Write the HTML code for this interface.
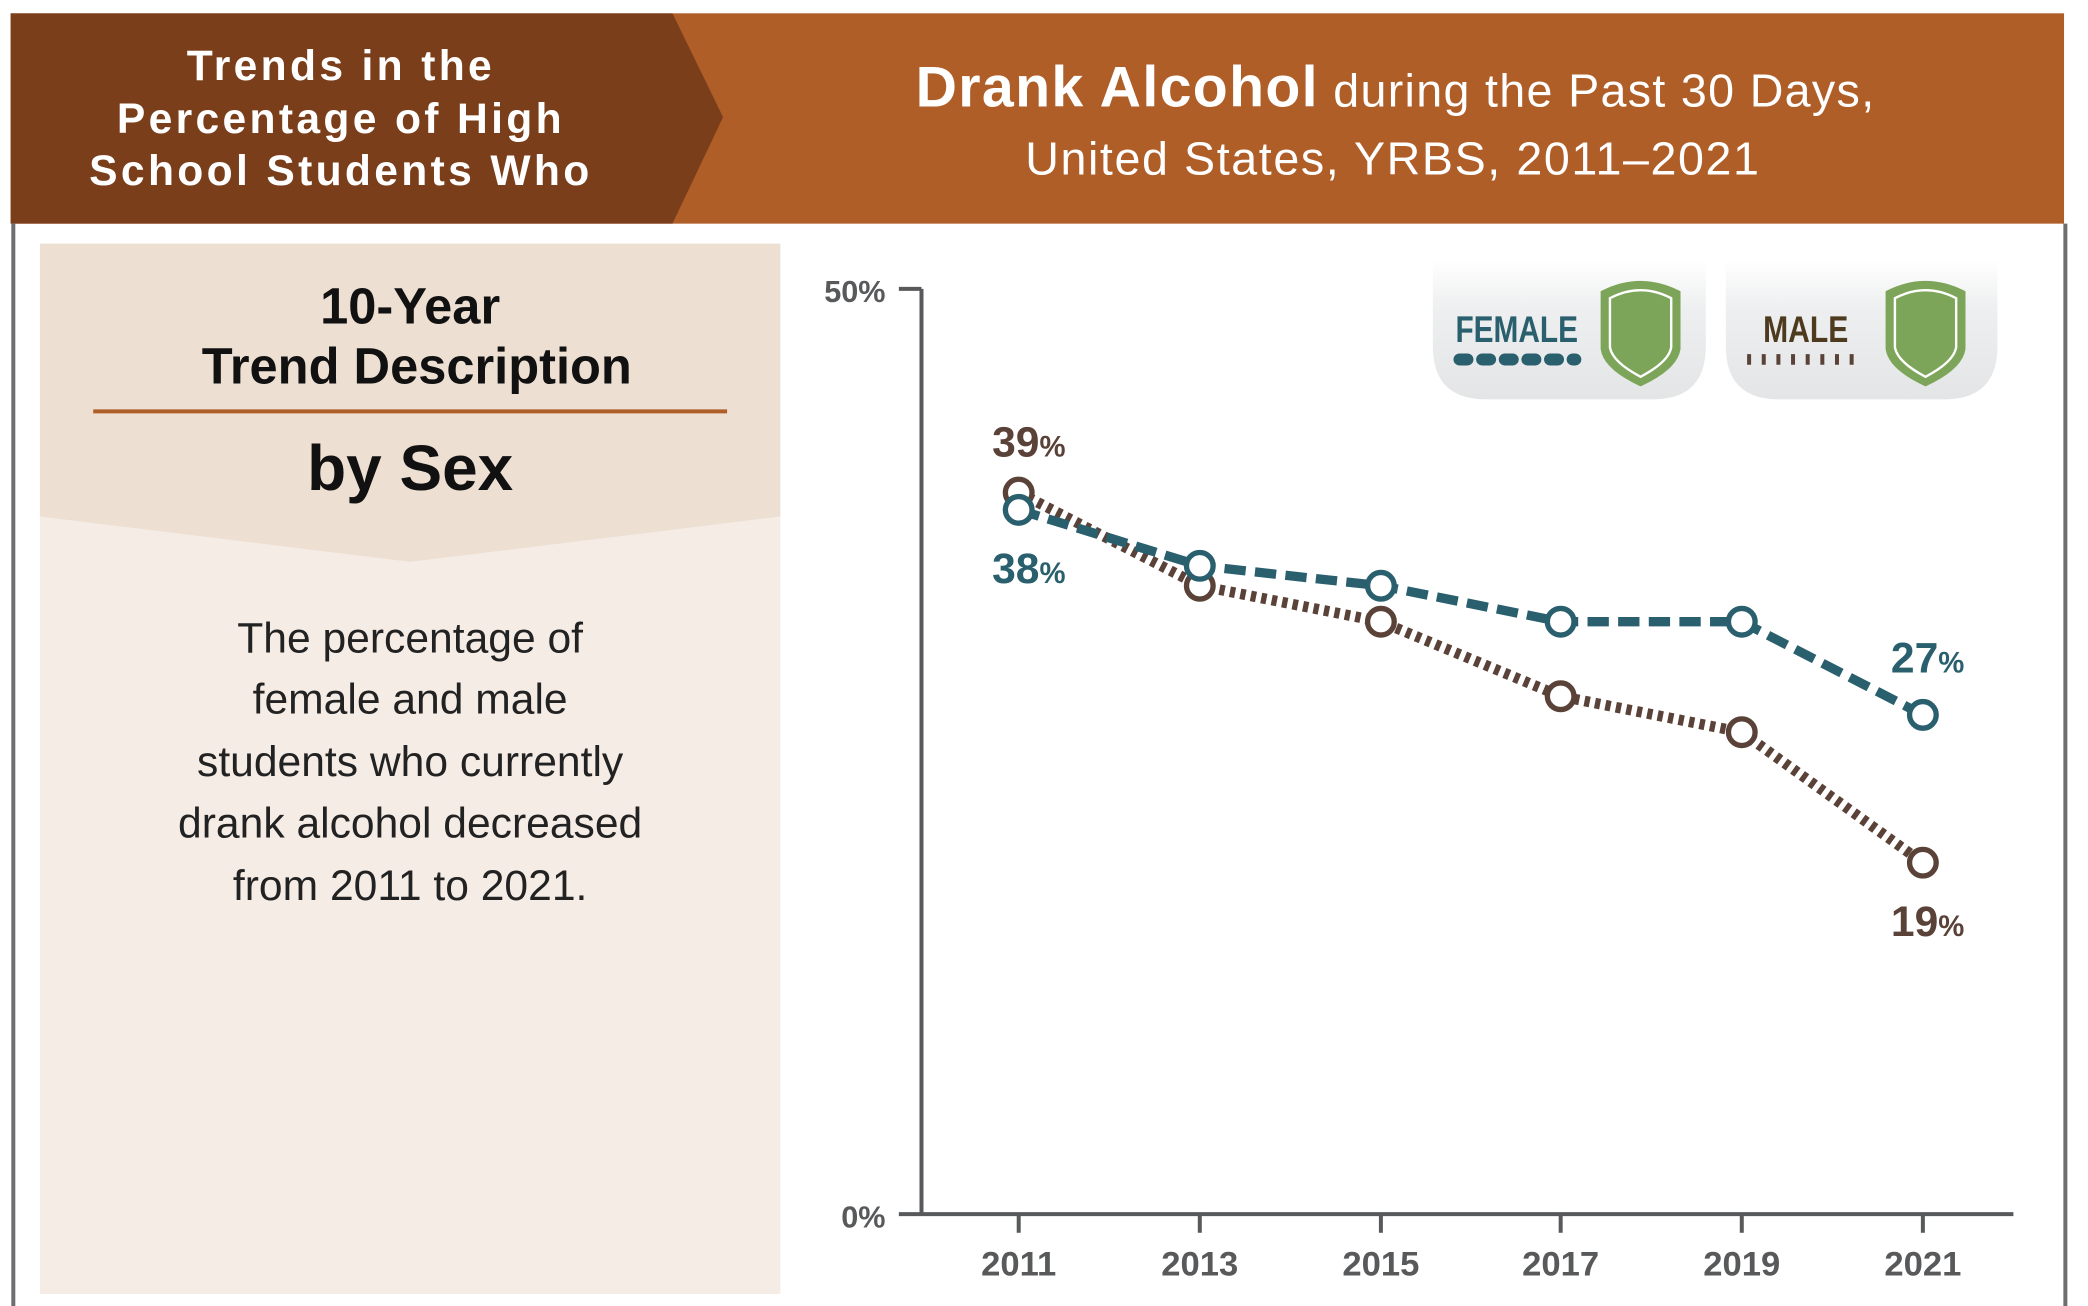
<!DOCTYPE html>
<html><head><meta charset="utf-8"><style>
html,body{margin:0;padding:0;background:#fff;}
svg{display:block;}
text{font-family:"Liberation Sans",sans-serif;}
</style></head><body>
<svg width="2088" height="1306" viewBox="0 0 1568 981" preserveAspectRatio="none" xmlns="http://www.w3.org/2000/svg">
<defs>
<linearGradient id="lg" x1="0" y1="0" x2="0" y2="1"><stop offset="0" stop-color="#fff"/><stop offset="0.35" stop-color="#eeeff0"/><stop offset="1" stop-color="#e4e5e6"/></linearGradient>
</defs>
<rect x="0" y="0" width="1568" height="981" fill="#fff"/>
<rect x="8" y="10" width="1542" height="158" fill="#b05e28"/>
<polygon points="8,10 505,10 543,88 505,168 8,168" fill="#7a3e1b"/>
<text x="256" y="60" text-anchor="middle" font-size="32" font-weight="bold" fill="#fff" letter-spacing="2.5">Trends in the</text>
<text x="256" y="100" text-anchor="middle" font-size="32" font-weight="bold" fill="#fff" letter-spacing="2.5">Percentage of High</text>
<text x="256" y="139" text-anchor="middle" font-size="32" font-weight="bold" fill="#fff" letter-spacing="2.5">School Students Who</text>
<text x="1048" y="80" text-anchor="middle" fill="#fff" letter-spacing="1"><tspan font-size="43" font-weight="bold">Drank Alcohol</tspan><tspan font-size="35"> during the Past 30 Days,</tspan></text>
<text x="1046" y="131" text-anchor="middle" font-size="35" fill="#fff" letter-spacing="1.2">United States, YRBS, 2011–2021</text>
<line x1="10" y1="168" x2="10" y2="981" stroke="#6d6e70" stroke-width="3"/>
<line x1="1551" y1="168" x2="1551" y2="981" stroke="#6d6e70" stroke-width="3"/>
<rect x="30" y="183" width="556" height="789" fill="#f5ece6"/>
<polygon points="30,183 586,183 586,388 308,422 30,388" fill="#eddfd2"/>
<text x="308" y="243" text-anchor="middle" font-size="38" font-weight="bold" fill="#111">10-Year</text>
<text x="313" y="288" text-anchor="middle" font-size="38" font-weight="bold" fill="#111">Trend Description</text>
<line x1="70" y1="309" x2="546" y2="309" stroke="#b05e28" stroke-width="3"/>
<text x="308" y="368" text-anchor="middle" font-size="48" font-weight="bold" fill="#111">by Sex</text>
<g font-size="32" fill="#222" text-anchor="middle">
<text x="308" y="490">The percentage of</text>
<text x="308" y="536">female and male</text>
<text x="308" y="583">students who currently</text>
<text x="308" y="629">drank alcohol decreased</text>
<text x="308" y="676">from 2011 to 2021.</text>
</g>
<path d="M1076,195 H1281 V260 Q1281,300 1241,300 H1116 Q1076,300 1076,260 Z" fill="url(#lg)"/>
<path d="M1296,195 H1500 V260 Q1500,300 1460,300 H1336 Q1296,300 1296,260 Z" fill="url(#lg)"/>
<text x="1139" y="257" text-anchor="middle" font-size="28" font-weight="bold" fill="#2a5f6e" textLength="92" lengthAdjust="spacingAndGlyphs">FEMALE</text>
<line x1="1096" y1="270" x2="1183" y2="270" stroke="#2a5f6e" stroke-width="9" stroke-linecap="round" stroke-dasharray="6,11"/>
<text x="1356" y="257" text-anchor="middle" font-size="28" font-weight="bold" fill="#4e3a1e" textLength="64" lengthAdjust="spacingAndGlyphs">MALE</text>
<line x1="1312" y1="270" x2="1399" y2="270" stroke="#5a4238" stroke-width="8" stroke-dasharray="3,8"/>
<g id="sh"><path d="M1204,220 Q1232,206 1260,220 V262 Q1258,276 1232,288 Q1206,276 1204,262 Z" fill="#7da55a" stroke="#7da55a" stroke-width="4"/><path d="M1209,224 Q1232,212 1255,224 V261 Q1253,272 1232,283 Q1211,272 1209,261 Z" fill="none" stroke="#fff" stroke-width="1.8"/></g>
<use href="#sh" transform="translate(214,0)"/>
<line x1="692" y1="217" x2="692" y2="912" stroke="#58595b" stroke-width="3"/>
<line x1="675" y1="217" x2="692" y2="217" stroke="#58595b" stroke-width="3"/>
<line x1="675" y1="912" x2="1512" y2="912" stroke="#58595b" stroke-width="3"/>
<g stroke="#58595b" stroke-width="3">
<line x1="765" y1="912" x2="765" y2="926"/><line x1="901" y1="912" x2="901" y2="926"/><line x1="1037" y1="912" x2="1037" y2="926"/><line x1="1172" y1="912" x2="1172" y2="926"/><line x1="1308" y1="912" x2="1308" y2="926"/><line x1="1444" y1="912" x2="1444" y2="926"/>
</g>
<text x="665" y="227" text-anchor="end" font-size="23" font-weight="bold" fill="#58595b">50%</text>
<text x="665" y="922" text-anchor="end" font-size="23" font-weight="bold" fill="#58595b">0%</text>
<g font-size="26" font-weight="bold" fill="#58595b" text-anchor="middle">
<text x="765" y="958">2011</text><text x="901" y="958">2013</text><text x="1037" y="958">2015</text><text x="1172" y="958">2017</text><text x="1308" y="958">2019</text><text x="1444" y="958">2021</text>
</g>
<polyline points="765,370 901,440 1037,467 1172,523 1308,550 1444,648" fill="none" stroke="#5a4238" stroke-width="8" stroke-dasharray="4,4"/>
<polyline points="765,383 901,425 1037,440 1172,467 1308,467 1444,537" fill="none" stroke="#2a5f6e" stroke-width="7" stroke-dasharray="16,7"/>
<g fill="#fff" stroke="#5a4238" stroke-width="4">
<circle cx="765" cy="370" r="10"/><circle cx="901" cy="440" r="10"/><circle cx="1037" cy="467" r="10"/><circle cx="1172" cy="523" r="10"/><circle cx="1308" cy="550" r="10"/><circle cx="1444" cy="648" r="10"/>
</g>
<g fill="#fff" stroke="#2a5f6e" stroke-width="4">
<circle cx="765" cy="383" r="10"/><circle cx="901" cy="425" r="10"/><circle cx="1037" cy="440" r="10"/><circle cx="1172" cy="467" r="10"/><circle cx="1308" cy="467" r="10"/><circle cx="1444" cy="537" r="10"/>
</g>
<g font-weight="bold">
<text x="745" y="343" font-size="32" fill="#5a4238">39<tspan font-size="22">%</tspan></text>
<text x="745" y="438" font-size="32" fill="#2a5f6e">38<tspan font-size="22">%</tspan></text>
<text x="1420" y="505" font-size="32" fill="#2a5f6e">27<tspan font-size="22">%</tspan></text>
<text x="1420" y="703" font-size="32" fill="#5a4238">19<tspan font-size="22">%</tspan></text>
</g>
</svg>
</body></html>
